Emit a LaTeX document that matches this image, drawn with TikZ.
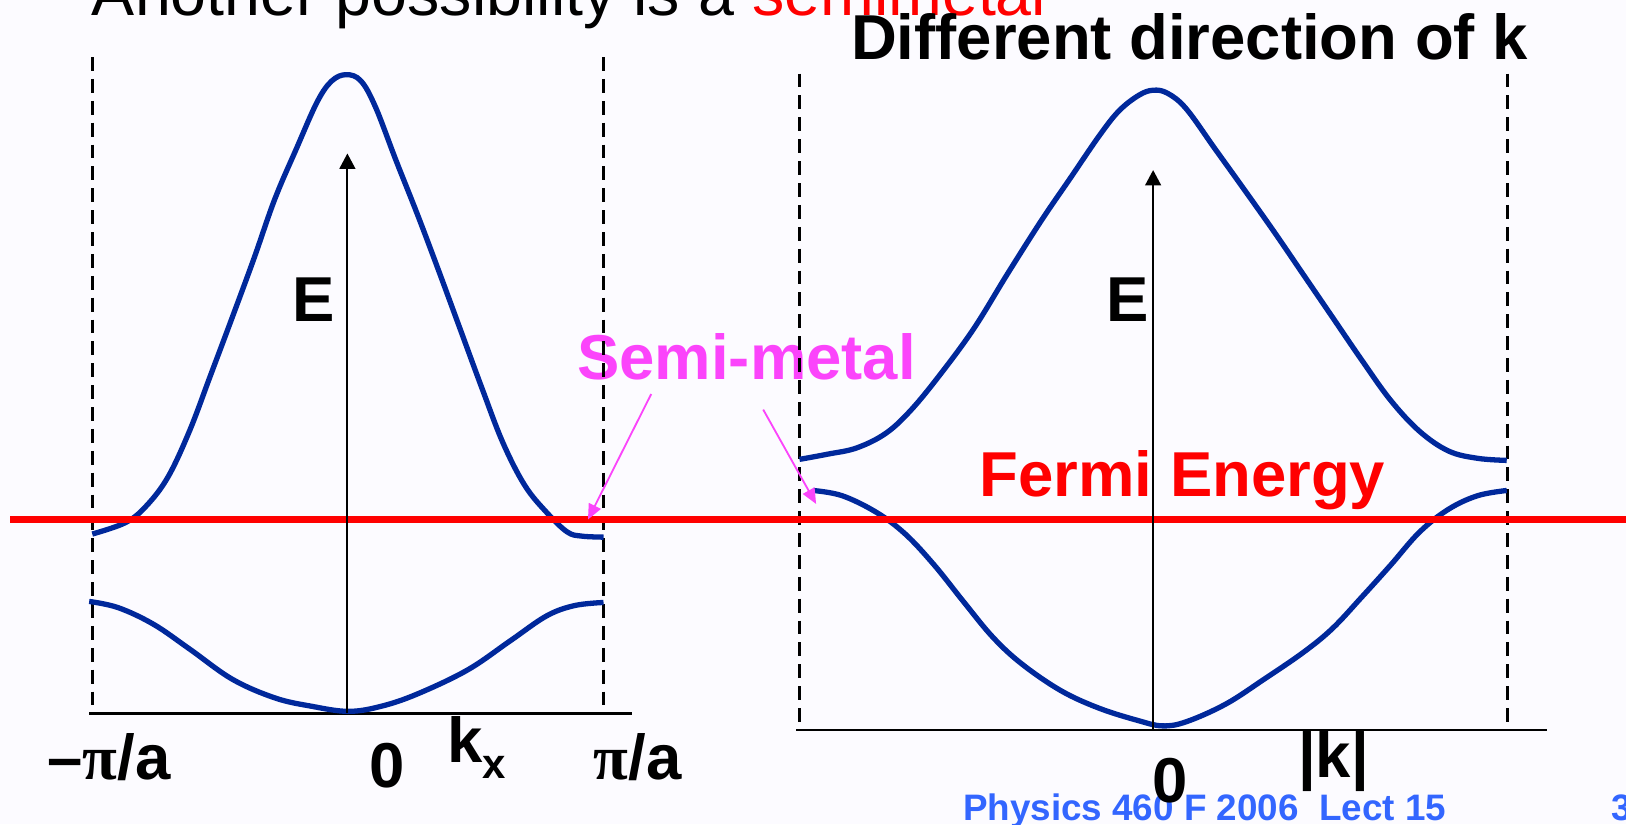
\documentclass[tikz,border=0pt]{standalone}
\usepackage{fontspec}
\setmainfont{Liberation Sans}
\newfontfamily\symfont{Liberation Serif}
\usetikzlibrary{arrows.meta,calc}
\definecolor{Band}{RGB}{0,40,155}
\definecolor{Pink}{RGB}{251,68,251}
\definecolor{Foot}{RGB}{51,102,255}
\definecolor{Bg}{RGB}{252,251,255}

\begin{document}
\begin{tikzpicture}[x=0.01cm,y=-0.01cm,
 band/.style={Band,line width=1.45pt,line join=round},
 zb/.style={dash pattern=on 3.8pt off 2.2pt,line width=0.75pt},
 ax/.style={line width=0.7pt},
 up/.style={-{Triangle[width=4.3pt,length=4.2pt]},line width=0.6pt},
 pt/.style={-{Triangle[width=3.6pt,length=4.2pt]},Pink,line width=0.5pt},
 lb/.style={font=\fontsize{17.4}{20}\selectfont\bfseries,inner sep=0pt,anchor=base west}]
\clip (0,0) rectangle (1568,795);
\fill[Bg] (0,0) rectangle (1568,795);
\node[font=\fontsize{17.7}{21}\selectfont,inner sep=0pt,anchor=base west] (intro) at (88,14.5) {Another possibility is a \textcolor{red}{semimetal}};
\node[lb] (title) at (820,57) {Different direction of k};
\node[lb] (semi) at (556,366) {\textcolor{Pink}{Semi-metal}};
\node[lb,text=red] (fermi) at (944,479) {Fermi Energy};
\node[lb] (lEl) at (281,310.5) {E};
\node[lb] (rEl) at (1066.5,310.5) {E};
\node[lb] (lmin) at (45,752) {–{\symfont π}/a};
\node[lb] (lmax) at (572,752) {{\symfont π}/a};
\node[lb] (lzero) at (355.5,759) {0};
\node[lb] (kx) at (431,735.5) {k\raisebox{-4.4pt}{\fontsize{11.5}{12}\selectfont x}};
\node[font=\fontsize{10.1}{12}\selectfont\bfseries,text=Foot,inner sep=0pt,anchor=base west] (foot) at (928,791) {Physics 460 F 2006\ \ Lect 15};
\node[font=\fontsize{10.1}{12}\selectfont\bfseries,text=Foot,inner sep=0pt,anchor=base west] (pg) at (1553,791) {3};
\node[lb] (rzero) at (1111,774) {0};
\node[lb] (kabs) at (1251,750) {|k|};
\draw[zb] (89,55) -- (89,688) (582,55) -- (582,688);
\draw[zb] (771,71) -- (771,700) (1454,71) -- (1454,700);
\draw[ax] (86,688) -- (609,688);
\draw[ax] (768,704) -- (1492,704);
\draw[band] plot[smooth,tension=0.6] coordinates {(89,515) (121,504) (141,488) (162,460) (183,415) (203,362) (224,306) (245,249) (265,192) (286,143) (306,98) (320,78) (334,72) (348,78) (362,103) (382,155) (403,208) (423,261) (444,318) (465,375) (485,427) (506,468) (527,494) (547,513) (561,517) (582,518)};
\draw[band] plot[smooth,tension=0.6] coordinates {(86,580) (114,586) (148,602) (183,626) (224,655) (265,673) (300,681) (336,686) (368,681) (403,669) (451,646) (492,618) (527,594) (554,584) (582,581)};
\draw[band] plot[smooth,tension=0.6] coordinates {(771,443) (798,438) (826,432) (854,418) (878,396) (906,362) (939,317) (971,265) (1004,213) (1032,172) (1060,131) (1079,107) (1098,92) (1112,87) (1126,90) (1144,105) (1172,144) (1200,183) (1229,224) (1257,265) (1285,306) (1313,347) (1341,386) (1369,416) (1397,435) (1425,442) (1453,444)};
\draw[band] plot[smooth,tension=0.6] coordinates {(784,473) (812,478) (845,494) (873,515) (901,545) (929,580) (957,614) (985,640) (1023,666) (1060,683) (1098,695) (1121,700) (1144,696) (1182,679) (1219,655) (1257,629) (1285,606) (1313,576) (1341,545) (1369,513) (1397,491) (1425,478) (1453,473)};
\draw[red,line width=2.1pt] (10,501) -- (1568,501);
\coordinate (l0) at (335,688);
\coordinate (lE) at (335,148);
\coordinate (r0) at (1112,704);
\coordinate (rE) at (1112,164);
\draw[up] (l0) -- (lE);
\draw[up] (r0) -- (rE);
\coordinate (s1) at (628,380);
\coordinate (t1) at (567,501);
\coordinate (s2) at (736,395);
\coordinate (t2) at (787,486);
\draw[pt] (s1) -- (t1);
\draw[pt] (s2) -- (t2);
\end{tikzpicture}
\end{document}
